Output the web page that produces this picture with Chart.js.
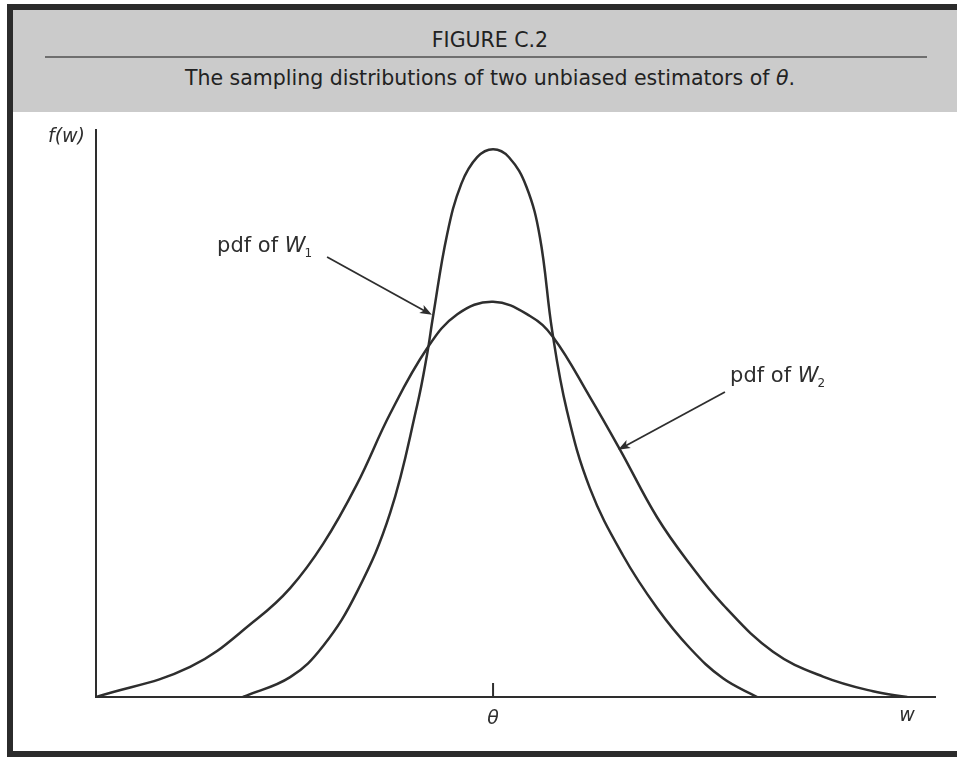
<!DOCTYPE html>
<html>
<head>
<meta charset="utf-8">
<script src="https://cdn.jsdelivr.net/npm/chart.js@4.4.1/dist/chart.umd.min.js"></script>
<style>
  html, body { margin: 0; padding: 0; background: #fff; }
  body { width: 957px; height: 760px; position: relative; overflow: hidden; font-family: "DejaVu Sans", sans-serif; }
  #frame { position: absolute; left: 7px; top: 4px; width: 960px; height: 753px; box-sizing: border-box;
           border: 6px solid #2b2b2b; border-right: none; background: #fff; }
  #header { position: absolute; left: 0; top: 0; right: 0; height: 102px; background: #cbcbcb; color: #222; }
  #figNo { position: absolute; top: 17px; left: 0; width: 954px; text-align: center; font-size: 20.5px; line-height: 26px; }
  #rule { position: absolute; top: 46px; left: 32px; width: 882px; height: 2px; background: #6f6f6f; }
  #caption { position: absolute; top: 55px; left: 0; width: 954px; text-align: center; font-size: 20.5px; line-height: 26px; }
  #chart { position: absolute; left: 0; top: 0; }
</style>
</head>
<body>
<div id="frame">
  <div id="header">
    <div id="figNo">FIGURE C.2</div>
    <div id="rule"></div>
    <div id="caption">The sampling distributions of two unbiased estimators of <i>θ</i>.</div>
  </div>
</div>
<canvas id="chart" width="957" height="760"></canvas>
<script>
// values (x centred on theta, y = density as share of axis height)
const W1_X = [-6.30, -5.11, -4.28, -3.43, -2.59, -1.91, -1.66, -1.51, -1.16, -0.80, -0.40, 0, 0.40, 0.84, 1.18, 1.49, 1.86, 2.44, 3.27, 4.13, 4.96, 5.79, 6.65];
const W1_Y = [0, 0.035, 0.090, 0.185, 0.325, 0.515, 0.605, 0.672, 0.815, 0.905, 0.952, 0.966, 0.952, 0.900, 0.811, 0.645, 0.505, 0.368, 0.250, 0.157, 0.086, 0.033, 0];

const W2_X = [-10.0, -7.63, -5.94, -5.11, -4.28, -3.43, -2.59, -1.66, -0.90, 0, 0.93, 1.51, 2.44, 3.20, 4.13, 4.96, 5.79, 7.05, 8.31, 9.57, 10.43];
const W2_Y = [0, 0.053, 0.138, 0.192, 0.270, 0.375, 0.500, 0.615, 0.675, 0.697, 0.672, 0.635, 0.529, 0.436, 0.317, 0.234, 0.163, 0.080, 0.036, 0.010, 0];

const THETA = 0;
const X_MIN = -10;
const X_MAX = 11.13;

const INK = '#2e2e2e';
const FONT = '"DejaVu Sans"';

// arrow labels, in data units
const NOTES = [
    { sub: '1', x: -6.95, y: 0.785, from: [-4.18, 0.776], to: [-1.54, 0.674] },
    { sub: '2', x: 5.97, y: 0.556, from: [5.84, 0.538], to: [3.15, 0.436] }
];

function toPoints(xs, ys) {
    return xs.map((x, i) => ({ x: x, y: ys[i] }));
}

function drawArrow(ctx, x1, y1, x2, y2) {
    const ang = Math.atan2(y2 - y1, x2 - x1);
    const c = Math.cos(ang), s = Math.sin(ang);
    ctx.beginPath();
    ctx.moveTo(x1, y1);
    ctx.lineTo(x2 - 6 * c, y2 - 6 * s);
    ctx.stroke();
    ctx.beginPath();
    ctx.moveTo(x2, y2);
    ctx.lineTo(x2 - 12 * c + 4.5 * s, y2 - 12 * s - 4.5 * c);
    ctx.lineTo(x2 - 9 * c, y2 - 9 * s);
    ctx.lineTo(x2 - 12 * c - 4.5 * s, y2 - 12 * s + 4.5 * c);
    ctx.closePath();
    ctx.fill();
}

const extras = {
    id: 'extras',
    afterDraw(chart) {
        const ctx = chart.ctx;
        const xs = chart.scales.x;
        const ys = chart.scales.y;
        ctx.save();
        ctx.strokeStyle = INK;
        ctx.fillStyle = INK;

        // theta tick
        const tx = xs.getPixelForValue(THETA);
        ctx.lineWidth = 2;
        ctx.beginPath();
        ctx.moveTo(tx, ys.bottom);
        ctx.lineTo(tx, ys.bottom - 14);
        ctx.stroke();

        ctx.textBaseline = 'middle';
        ctx.font = 'italic 19px ' + FONT;
        ctx.textAlign = 'center';
        ctx.fillText('θ', tx, ys.bottom + 22);
        ctx.fillText('w', xs.right - 28, ys.bottom + 19);
        ctx.textAlign = 'right';
        ctx.fillText('f(w)', ys.left - 11, ys.top + 7);

        // labels and arrows
        ctx.textBaseline = 'alphabetic';
        ctx.textAlign = 'left';
        NOTES.forEach(n => {
            let px = xs.getPixelForValue(n.x);
            const py = ys.getPixelForValue(n.y);
            ctx.font = '21px ' + FONT;
            ctx.fillText('pdf of ', px, py);
            px += ctx.measureText('pdf of ').width;
            ctx.font = 'italic 21px ' + FONT;
            ctx.fillText('W', px, py);
            px += ctx.measureText('W').width - 1;
            ctx.font = '12px ' + FONT;
            ctx.fillText(n.sub, px, py + 5);

            ctx.lineWidth = 1.8;
            drawArrow(ctx,
                xs.getPixelForValue(n.from[0]), ys.getPixelForValue(n.from[1]),
                xs.getPixelForValue(n.to[0]), ys.getPixelForValue(n.to[1]));
        });
        ctx.restore();
    }
};

const curveStyle = {
    borderColor: INK,
    borderWidth: 2.5,
    pointRadius: 0,
    fill: false,
    tension: 0.4
};

new Chart(document.getElementById('chart').getContext('2d'), {
    type: 'line',
    data: {
        datasets: [
            Object.assign({ label: 'pdf of W1', data: toPoints(W1_X, W1_Y) }, curveStyle),
            Object.assign({ label: 'pdf of W2', data: toPoints(W2_X, W2_Y) }, curveStyle)
        ]
    },
    options: {
        responsive: false,
        animation: false,
        layout: { padding: { left: 96, right: 22, top: 130, bottom: 63 } },
        plugins: { legend: { display: false }, tooltip: { enabled: false } },
        scales: {
            x: {
                type: 'linear', min: X_MIN, max: X_MAX,
                grid: { display: false, drawTicks: false },
                ticks: { display: false },
                border: { display: true, color: INK, width: 2 }
            },
            y: {
                min: 0, max: 1,
                grid: { display: false, drawTicks: false },
                ticks: { display: false },
                border: { display: true, color: INK, width: 2 }
            }
        }
    },
    plugins: [extras]
});
</script>
</body>
</html>
